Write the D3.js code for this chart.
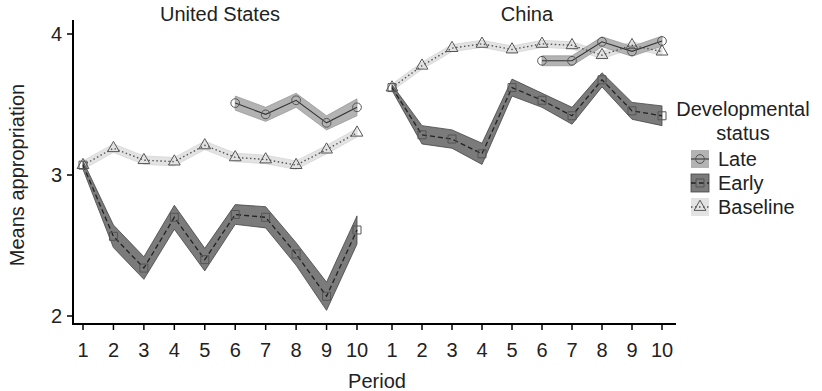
<!DOCTYPE html>
<html><head><meta charset="utf-8">
<script src="https://cdn.jsdelivr.net/npm/d3@7"></script>
<style>body{margin:0;background:#fff}svg{font-family:"Liberation Sans",Arial,sans-serif}</style>
</head><body><svg id="c" width="822" height="391"></svg>
<script>
const periods=[1,2,3,4,5,6,7,8,9,10];
const latePeriods=[6,7,8,9,10];
const panelNames=["United States","China"];
const yTicks=[2,3,4];
const statusNames=["Late","Early","Baseline"];

const usLate=[3.51,3.43,3.53,3.37,3.48];
const usLateSe=[0.05,0.05,0.05,0.05,0.06];
const usEarly=[3.07,2.565,2.34,2.70,2.40,2.72,2.70,2.44,2.14,2.61];
const usEarlySe=[0.03,0.08,0.08,0.085,0.08,0.07,0.075,0.08,0.1,0.1];
const usBaseline=[3.07,3.19,3.105,3.095,3.21,3.125,3.11,3.07,3.18,3.30];
const usBaselineSe=[0.03,0.03,0.03,0.03,0.03,0.03,0.03,0.03,0.03,0.03];

const cnLate=[3.81,3.81,3.945,3.877,3.95];
const cnLateSe=[0.035,0.035,0.035,0.035,0.035];
const cnEarly=[3.62,3.285,3.255,3.15,3.62,3.53,3.42,3.675,3.455,3.42];
const cnEarlySe=[0.02,0.065,0.065,0.075,0.06,0.05,0.06,0.05,0.06,0.07];
const cnBaseline=[3.62,3.775,3.90,3.93,3.89,3.93,3.92,3.85,3.92,3.875];
const cnBaselineSe=[0.025,0.025,0.025,0.025,0.025,0.025,0.025,0.025,0.025,0.025];

const styles={
  Late:{fill:"#b3b3b3",rstroke:"#9a9a9a",dash:null,lw:1.1,line:"#333",sym:d3.symbolCircle,size:60},
  Early:{fill:"#7b7b7b",rstroke:"#444",dash:"5,3",lw:1.3,line:"#222",sym:d3.symbolSquare,size:64},
  Baseline:{fill:"#e3e3e3",rstroke:"#d6d6d6",dash:"1.5,2.5",lw:1.4,line:"#555",sym:d3.symbolTriangle,size:60}
};

function mk(ps,vals,se){return ps.map((p,i)=>({p,v:vals[i],lo:vals[i]-se[i],hi:vals[i]+se[i]}));}
const panelData=[
  {name:panelNames[0],series:{Baseline:mk(periods,usBaseline,usBaselineSe),Early:mk(periods,usEarly,usEarlySe),Late:mk(latePeriods,usLate,usLateSe)},range:[83,357]},
  {name:panelNames[1],series:{Baseline:mk(periods,cnBaseline,cnBaselineSe),Early:mk(periods,cnEarly,cnEarlySe),Late:mk(latePeriods,cnLate,cnLateSe)},range:[392,662]}
];

const FS=20;
const svg=d3.select("#c");
const y=d3.scaleLinear().domain([2,4]).range([316,34]);
const axisX0=73, axisY0=324;

// y axis
svg.append("line").attr("x1",axisX0).attr("x2",axisX0).attr("y1",20).attr("y2",axisY0+1).attr("stroke","#000").attr("stroke-width",2);
yTicks.forEach(t=>{
  svg.append("line").attr("x1",axisX0-6).attr("x2",axisX0).attr("y1",y(t)).attr("y2",y(t)).attr("stroke","#000").attr("stroke-width",1.5);
  svg.append("text").attr("x",axisX0-11).attr("y",y(t)).attr("dy","0.36em").attr("text-anchor","end").attr("font-size",FS).attr("fill","#222").text(t);
});
// x axis line
svg.append("line").attr("x1",axisX0-1).attr("x2",676).attr("y1",axisY0).attr("y2",axisY0).attr("stroke","#000").attr("stroke-width",2);

const order=["Baseline","Early","Late"];
panelData.forEach(pd=>{
  const x=d3.scaleLinear().domain([1,10]).range(pd.range);
  const g=svg.append("g");
  periods.forEach(p=>{
    g.append("line").attr("x1",x(p)).attr("x2",x(p)).attr("y1",axisY0).attr("y2",axisY0+6).attr("stroke","#000").attr("stroke-width",1.5);
    g.append("text").attr("x",x(p)).attr("y",axisY0+33).attr("text-anchor","middle").attr("font-size",FS).attr("fill","#222").text(p);
  });
  g.append("text").attr("x",(pd.range[0]+pd.range[1])/2).attr("y",21).attr("text-anchor","middle").attr("font-size",FS).attr("fill","#222").text(pd.name);
  const area=d3.area().x(d=>x(d.p)).y0(d=>y(d.lo)).y1(d=>y(d.hi));
  const line=d3.line().x(d=>x(d.p)).y(d=>y(d.v));
  order.forEach(k=>{
    const s=styles[k];
    g.append("path").attr("d",area(pd.series[k])).attr("fill",s.fill).attr("stroke",s.rstroke).attr("stroke-width",0.8);
  });
  order.forEach(k=>{
    const s=styles[k];
    g.append("path").attr("d",line(pd.series[k])).attr("fill","none").attr("stroke",s.line).attr("stroke-width",s.lw).attr("stroke-dasharray",s.dash);
  });
  order.forEach(k=>{
    const s=styles[k];
    g.selectAll(null).data(pd.series[k]).enter().append("path")
      .attr("d",d3.symbol().type(s.sym).size(s.size)())
      .attr("transform",d=>`translate(${x(d.p)},${y(d.v)})`)
      .attr("fill","none").attr("stroke","#555").attr("stroke-width",1);
  });
});

// axis titles
svg.append("text").attr("transform","translate(24,175) rotate(-90)").attr("text-anchor","middle").attr("font-size",FS).attr("fill","#222").text("Means appropriation");
svg.append("text").attr("x",377).attr("y",388).attr("text-anchor","middle").attr("font-size",FS).attr("fill","#222").text("Period");

// legend
const lg=svg.append("g");
lg.append("text").attr("x",743).attr("y",116).attr("text-anchor","middle").attr("font-size",FS).attr("fill","#222").text("Developmental");
lg.append("text").attr("x",743).attr("y",140).attr("text-anchor","middle").attr("font-size",FS).attr("fill","#222").text("status");
statusNames.forEach((k,i)=>{
  const s=styles[k];
  const cy=159+i*24;
  lg.append("rect").attr("x",691).attr("y",cy-9).attr("width",18).attr("height",18).attr("fill",s.fill).attr("stroke",k==="Early"?"#444":"none").attr("stroke-width",0.8);
  lg.append("line").attr("x1",691).attr("x2",709).attr("y1",cy).attr("y2",cy).attr("stroke",s.line).attr("stroke-width",s.lw).attr("stroke-dasharray",s.dash);
  lg.append("path").attr("d",d3.symbol().type(s.sym).size(s.size)()).attr("transform",`translate(700,${cy})`).attr("fill","none").attr("stroke","#555").attr("stroke-width",1);
  lg.append("text").attr("x",718).attr("y",cy+6.5).attr("font-size",FS).attr("fill","#222").text(k);
});
</script></body></html>
